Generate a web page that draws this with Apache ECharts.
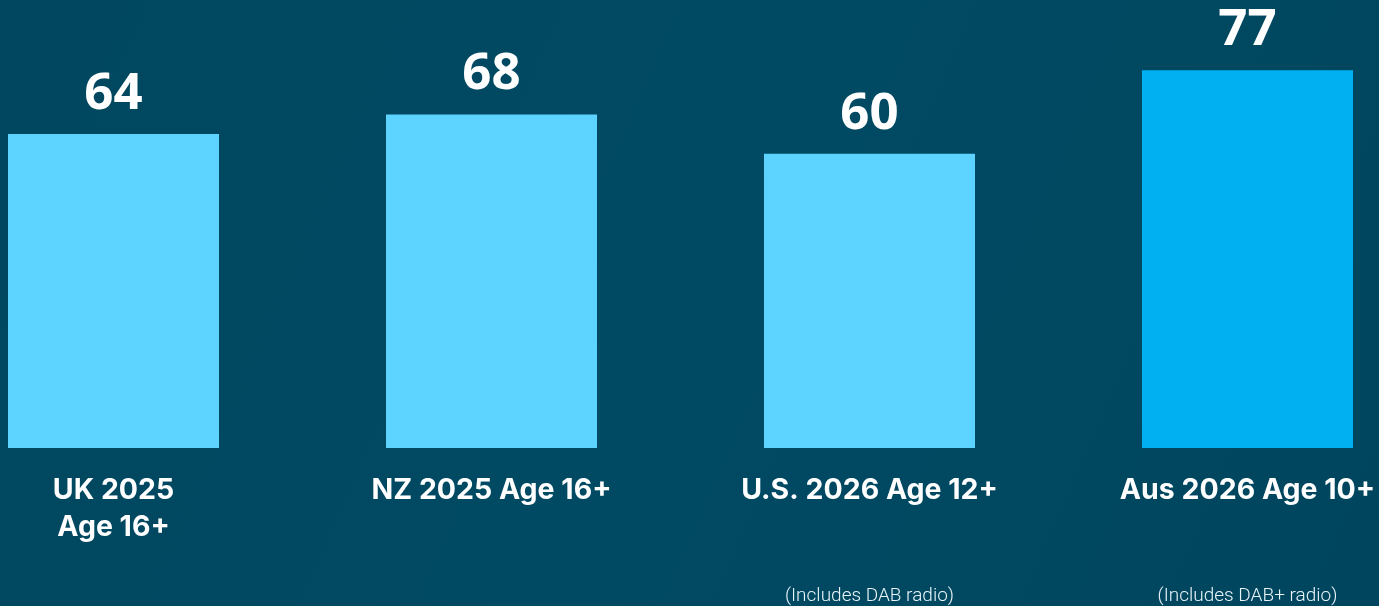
<!DOCTYPE html>
<html>
<head>
<meta charset="utf-8">
<script src="https://cdn.jsdelivr.net/npm/echarts@6/dist/echarts.min.js"></script>
<style>
html,body{margin:0;padding:0;background:#00475f;}
#c{width:1379px;height:606px;}
</style>
</head>
<body>
<div id="c"></div>
<script>
const categories = ['UK 2025\nAge 16+', 'NZ 2025 Age 16+', 'U.S. 2026 Age 12+', 'Aus 2026 Age 10+'];
const values = [64, 68, 60, 77];
const notes = ['', '', '(Includes DAB radio)', '(Includes DAB+ radio)'];
const barColors = ['#5cd4ff', '#5cd4ff', '#5cd4ff', '#00b0f0'];

const chart = echarts.init(document.getElementById('c'), null, {renderer: 'canvas'});
chart.setOption({
  backgroundColor: {
    type: 'linear', x: 0, y: 0, x2: 1, y2: 1,
    colorStops: [
      {offset: 0, color: '#00475f'},
      {offset: 0.5, color: '#014a63'},
      {offset: 1, color: '#00455e'}
    ]
  },
  animation: false,
  grid: {left: 113.5, right: 131.5, top: 55.6, bottom: 157, containLabel: false},
  xAxis: [
    {
      type: 'category',
      data: categories,
      boundaryGap: false,
      axisLine: {show: false},
      axisTick: {show: false},
      axisLabel: {
        color: '#ffffff',
        fontFamily: 'Inter, Liberation Sans, Arial, sans-serif',
        fontWeight: 'bold',
        fontSize: 28.5,
        lineHeight: 37,
        margin: 24,
        interval: 0
      }
    },
    {
      type: 'category',
      data: notes,
      position: 'bottom',
      offset: 138,
      boundaryGap: false,
      axisLine: {show: false},
      axisTick: {show: false},
      axisLabel: {
        color: '#e8f4f8',
        fontFamily: 'Roboto, Liberation Sans, Arial, sans-serif',
        fontWeight: 300,
        fontSize: 19,
        lineHeight: 20,
        margin: 0,
        interval: 0
      }
    }
  ],
  yAxis: {
    type: 'value',
    min: 0,
    max: 80,
    show: false,
    splitLine: {show: false}
  },
  series: [{
    type: 'bar',
    data: values.map((v, i) => ({value: v, itemStyle: {color: barColors[i]}})),
    barWidth: 211,
    label: {
      show: true,
      position: 'top',
      distance: 14,
      color: '#ffffff',
      fontFamily: 'Noto Sans, Open Sans, sans-serif',
      fontWeight: 'bold',
      fontSize: 51
    }
  }]
});
</script>
</body>
</html>
